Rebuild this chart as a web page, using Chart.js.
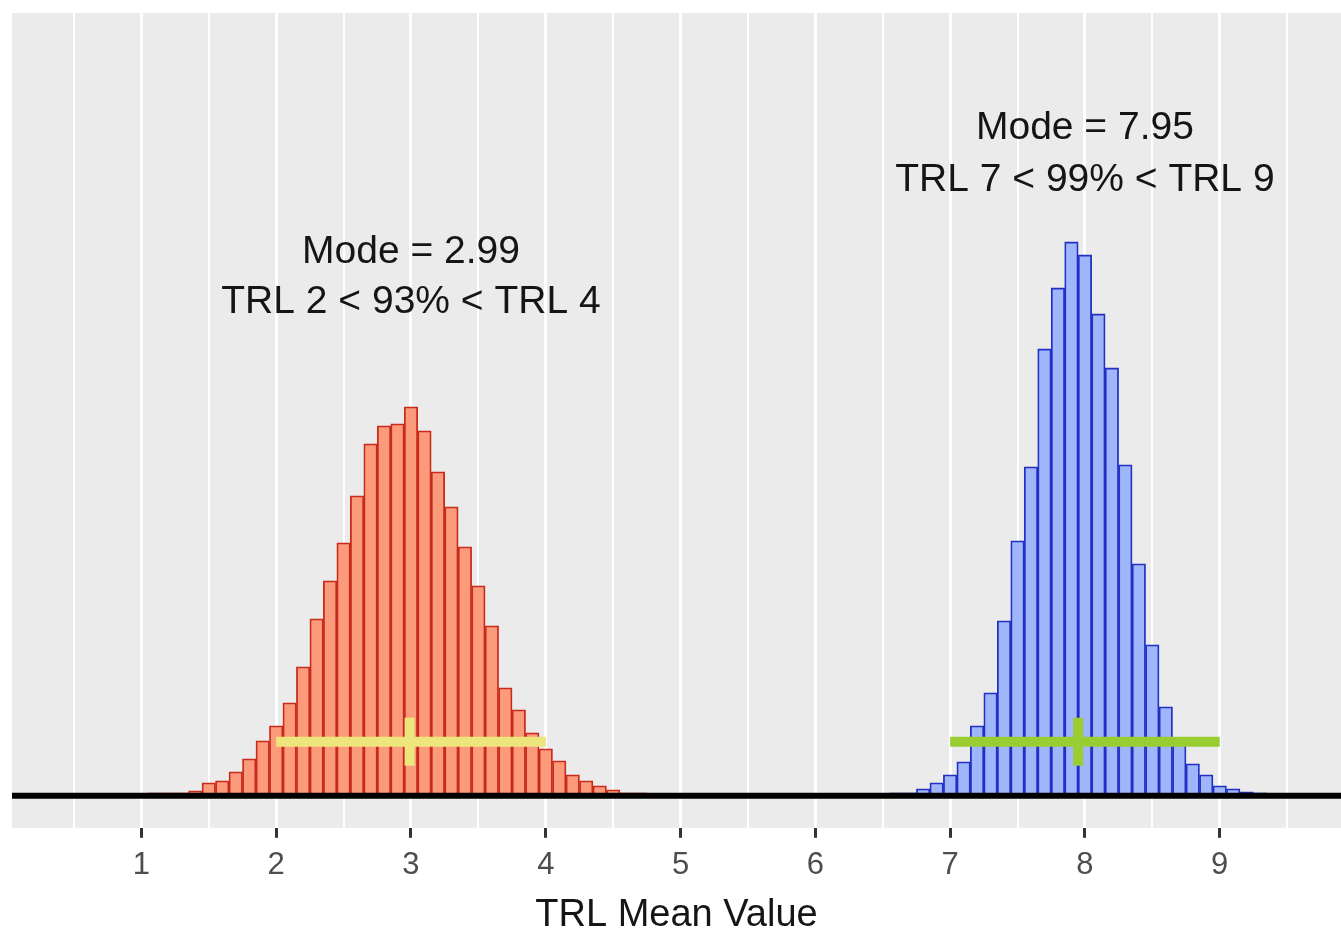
<!DOCTYPE html>
<html>
<head>
<meta charset="utf-8">
<script src="https://cdn.jsdelivr.net/npm/chart.js@4.4.1/dist/chart.umd.min.js"></script>
<style>
  html, body { margin: 0; padding: 0; background: #fff; }
  #wrap { width: 1341px; height: 931px; }
</style>
</head>
<body>
<div id="wrap"><canvas id="myChart"></canvas></div>
<script>
// histogram bins (centre of each 0.1 wide bin) and heights
const lowBins = [1.1, 1.2, 1.3, 1.4, 1.5, 1.6, 1.7, 1.8, 1.9, 2.0, 2.1, 2.2, 2.3, 2.4, 2.5, 2.6, 2.7, 2.8, 2.9, 3.0,
  3.1, 3.2, 3.3, 3.4, 3.5, 3.6, 3.7, 3.8, 3.9, 4.0, 4.1, 4.2, 4.3, 4.4, 4.5, 4.6, 4.7];
const lowCounts = [2, 2, 2, 4, 12, 14, 23, 36, 54, 69, 92, 128, 176, 214, 252, 299, 351, 369, 371, 388,
  364, 323, 288, 248, 209, 169, 107, 85, 62, 46, 34, 20, 14, 9, 5, 2, 2];

const highBins = [6.6, 6.7, 6.8, 6.9, 7.0, 7.1, 7.2, 7.3, 7.4, 7.5, 7.6, 7.7, 7.8, 7.9, 8.0,
  8.1, 8.2, 8.3, 8.4, 8.5, 8.6, 8.7, 8.8, 8.9, 9.0, 9.1, 9.2, 9.3];
const highCounts = [2, 2, 6, 12, 20, 33, 69, 102, 174, 254, 328, 446, 507, 553, 540,
  481, 427, 330, 231, 150, 88, 57, 31, 20, 9, 6, 3, 2];

// mode and interval for each group
const lowMode = 2.99;
const lowInterval = [2, 4];
const lowPct = 93;
const highMode = 7.95;
const highInterval = [7, 9];
const highPct = 99;

const xTicks = [1, 2, 3, 4, 5, 6, 7, 8, 9];
const xGrid = [0.5, 1, 1.5, 2, 2.5, 3, 3.5, 4, 4.5, 5, 5.5, 6, 6.5, 7, 7.5, 8, 8.5, 9, 9.5];

const errY = 53;      // height of the interval bars
const errHalf = 24;   // half height of the mode tick
const textFont = '39px "Liberation Sans", Arial, sans-serif';

const toPoints = (xs, ys) => xs.map((x, i) => ({ x: x, y: ys[i] }));

const panelBg = {
  id: 'panelBg',
  beforeDraw(chart) {
    const { ctx, chartArea: a } = chart;
    ctx.save();
    ctx.fillStyle = '#ebebeb';
    ctx.fillRect(a.left, a.top, a.right - a.left, a.bottom - a.top);
    ctx.restore();
  }
};

const baseLine = {
  id: 'baseLine',
  afterDatasetsDraw(chart) {
    const { ctx, chartArea: a, scales } = chart;
    const y = scales.y.getPixelForValue(0);
    ctx.save();
    ctx.strokeStyle = '#000';
    ctx.lineWidth = 6;
    ctx.beginPath();
    ctx.moveTo(a.left, y + 1);
    ctx.lineTo(a.right, y + 1);
    ctx.stroke();
    ctx.restore();
  }
};

const labels = {
  id: 'labels',
  afterDraw(chart) {
    const { ctx, scales } = chart;
    const groups = [
      { iv: lowInterval, mode: lowMode, pct: lowPct, y1: 543, y2: 493 },
      { iv: highInterval, mode: highMode, pct: highPct, y1: 667, y2: 615 }
    ];
    ctx.save();
    ctx.font = textFont;
    ctx.fillStyle = '#151515';
    ctx.textAlign = 'center';
    ctx.textBaseline = 'middle';
    groups.forEach(g => {
      const cx = scales.x.getPixelForValue((g.iv[0] + g.iv[1]) / 2);
      ctx.fillText('Mode = ' + g.mode, cx, scales.y.getPixelForValue(g.y1));
      ctx.fillText('TRL ' + g.iv[0] + ' < ' + g.pct + '% < TRL ' + g.iv[1], cx, scales.y.getPixelForValue(g.y2));
    });
    ctx.restore();
  }
};

const ctx = document.getElementById('myChart');

new Chart(ctx, {
  type: 'bar',
  data: {
    datasets: [
      {
        type: 'line',
        data: [{ x: lowInterval[0], y: errY }, { x: lowInterval[1], y: errY }],
        borderColor: '#ede67c',
        borderWidth: 10,
        borderCapStyle: 'butt',
        pointRadius: 0,
        order: 1
      },
      {
        type: 'line',
        data: [{ x: lowMode, y: errY - errHalf }, { x: lowMode, y: errY + errHalf }],
        borderColor: '#ede67c',
        borderWidth: 10,
        borderCapStyle: 'butt',
        pointRadius: 0,
        order: 1
      },
      {
        type: 'line',
        data: [{ x: highInterval[0], y: errY }, { x: highInterval[1], y: errY }],
        borderColor: '#9acd32',
        borderWidth: 10,
        borderCapStyle: 'butt',
        pointRadius: 0,
        order: 1
      },
      {
        type: 'line',
        data: [{ x: highMode, y: errY - errHalf }, { x: highMode, y: errY + errHalf }],
        borderColor: '#9acd32',
        borderWidth: 10,
        borderCapStyle: 'butt',
        pointRadius: 0,
        order: 1
      },
      {
        data: toPoints(lowBins, lowCounts),
        backgroundColor: '#fc9b7b',
        borderColor: '#c92a1a',
        borderWidth: 1.8,
        order: 2
      },
      {
        data: toPoints(highBins, highCounts),
        backgroundColor: '#9fb6fb',
        borderColor: '#2230c4',
        borderWidth: 1.8,
        order: 2
      }
    ]
  },
  options: {
    responsive: true,
    maintainAspectRatio: false,
    animation: false,
    grouped: false,
    barPercentage: 1,
    categoryPercentage: 1,
    layout: { padding: { left: 12, top: 13, right: 0, bottom: -4 } },
    plugins: {
      legend: { display: false },
      tooltip: { enabled: false }
    },
    scales: {
      x: {
        type: 'linear',
        min: 0.04,
        max: 9.9,
        offset: false,
        afterBuildTicks: scale => { scale.ticks = xGrid.map(v => ({ value: v })); },
        grid: {
          offset: false,
          color: '#ffffff',
          lineWidth: c => (xTicks.includes(c.tick && c.tick.value) ? 3 : 2),
          tickColor: c => (xTicks.includes(c.tick && c.tick.value) ? '#333333' : 'rgba(0,0,0,0)'),
          tickLength: 10,
          drawOnChartArea: true
        },
        border: { display: false },
        ticks: {
          autoSkip: false,
          maxRotation: 0,
          padding: 9,
          color: '#4d4d4d',
          font: { family: '"Liberation Sans", Arial, sans-serif', size: 31 },
          callback: v => (xTicks.includes(v) ? String(v) : '')
        },
        title: {
          display: true,
          text: 'TRL Mean Value',
          color: '#151515',
          padding: { top: 4, bottom: 0 },
          font: { family: '"Liberation Sans", Arial, sans-serif', size: 38, lineHeight: 1 }
        }
      },
      y: {
        display: false,
        min: -33,
        max: 782
      }
    }
  },
  plugins: [panelBg, baseLine, labels]
});
</script>
</body>
</html>
